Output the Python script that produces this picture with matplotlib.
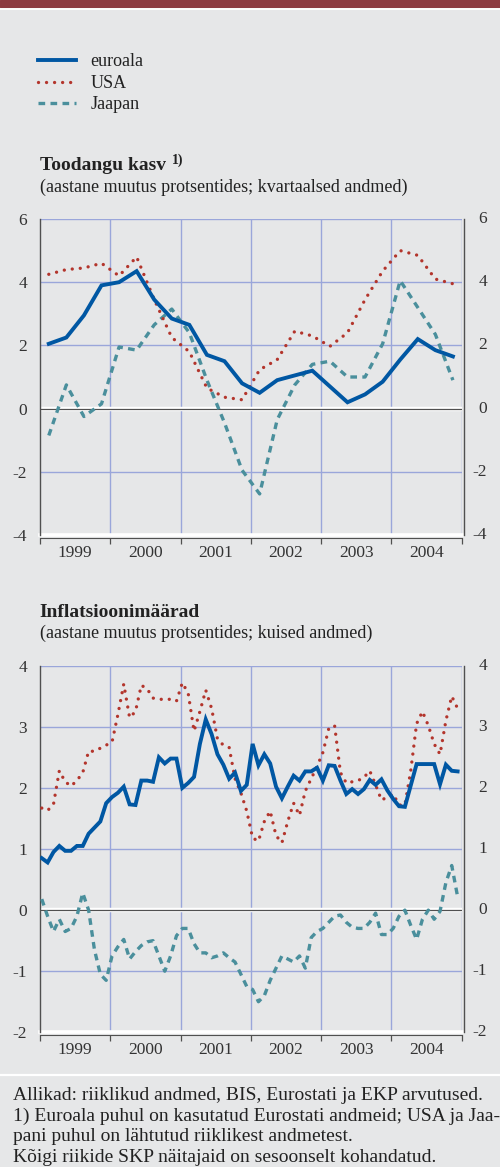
import matplotlib
matplotlib.use('Agg')
import matplotlib.pyplot as plt
import matplotlib.transforms as mtransforms
import numpy as np
from matplotlib.lines import Line2D
from matplotlib.patches import Rectangle

plt.rcParams['font.family'] = ['Liberation Serif', 'DejaVu Serif']

#figure size in pixels
W, H = 500, 1167

#colours
BG = '#E6E7E8'
C_EURO = '#0057A3'
C_USA = '#B3352C'
C_JPN = '#4A8F9C'
C_GRID = '#9AA6DA'
C_AXIS = '#505050'
C_TEXT = '#222222'

##data
years = [1999, 2000, 2001, 2002, 2003, 2004]
series_names = ['euroala', 'USA', 'Jaapan']

#output growth, quarterly 1999Q1 - 2004Q4
gdp_euro = [2.05, 2.25, 2.95, 3.9, 4.0, 4.35, 3.45, 2.85, 2.65, 1.7, 1.5, 0.8,
            0.5, 0.9, 1.05, 1.2, 0.7, 0.2, 0.45, 0.85, 1.55, 2.2, 1.85, 1.65]
gdp_usa = [4.25, 4.4, 4.45, 4.6, 4.2, 4.8, 3.45, 2.25, 1.8, 0.65, 0.36, 0.28,
           1.23, 1.55, 2.45, 2.3, 1.97, 2.4, 3.45, 4.35, 5.0, 4.85, 4.1, 3.95]
gdp_jpn = [-0.85, 0.75, -0.25, 0.15, 1.95, 1.85, 2.65, 3.15, 2.4, 0.9, -0.45, -1.95,
           -2.7, -0.35, 0.75, 1.4, 1.5, 1.0, 1.0, 2.05, 4.05, 3.2, 2.35, 0.9]

#inflation, monthly 1999-01 - 2004-12
cpi_euro = [0.85, 0.78, 0.95, 1.05, 0.97, 0.97, 1.05, 1.05, 1.25, 1.35, 1.45, 1.75,
            1.85, 1.92, 2.02, 1.73, 1.72, 2.12, 2.12, 2.1, 2.5, 2.4, 2.48, 2.48,
            2.0, 2.08, 2.18, 2.72, 3.12, 2.88, 2.55, 2.38, 2.15, 2.25, 1.95, 2.05,
            2.72, 2.37, 2.55, 2.4, 2.02, 1.83, 2.02, 2.2, 2.12, 2.27, 2.27, 2.33,
            2.12, 2.37, 2.36, 2.12, 1.9, 1.98, 1.9, 1.98, 2.13, 2.05, 2.14, 1.96,
            1.82, 1.7, 1.69, 2.04, 2.39, 2.39, 2.39, 2.39, 2.06, 2.38, 2.28, 2.27]
cpi_usa = [1.67, 1.63, 1.73, 2.28, 2.1, 2.03, 2.12, 2.25, 2.6, 2.6, 2.65, 2.7,
           2.75, 3.2, 3.7, 3.15, 3.25, 3.68, 3.62, 3.47, 3.45, 3.45, 3.45, 3.42,
           3.72, 3.55, 2.93, 3.25, 3.6, 3.3, 2.8, 2.7, 2.66, 2.15, 1.92, 1.62,
           1.18, 1.13, 1.45, 1.62, 1.22, 1.1, 1.45, 1.75, 1.55, 1.95, 2.15, 2.35,
           2.58, 2.97, 3.02, 2.25, 2.08, 2.1, 2.12, 2.17, 2.28, 2.05, 1.8, 1.85,
           1.9, 1.72, 1.72, 2.28, 3.05, 3.25, 3.02, 2.72, 2.55, 3.1, 3.5, 3.3]
cpi_jpn = [0.18, -0.1, -0.35, -0.15, -0.35, -0.3, -0.1, 0.28, 0.0, -0.65, -1.05, -1.15,
           -0.75, -0.6, -0.48, -0.8, -0.68, -0.58, -0.52, -0.5, -0.75, -1.0, -0.75, -0.42,
           -0.3, -0.3, -0.55, -0.7, -0.7, -0.78, -0.75, -0.7, -0.78, -0.85, -1.05, -1.25,
           -1.3, -1.5, -1.4, -1.15, -0.95, -0.75, -0.8, -0.85, -0.75, -0.95, -0.45, -0.35,
           -0.3, -0.2, -0.1, -0.08, -0.2, -0.28, -0.3, -0.3, -0.2, -0.05, -0.4, -0.4,
           -0.3, -0.1, 0.0, -0.25, -0.48, -0.15, 0.0, -0.15, -0.02, 0.45, 0.73, 0.22]

#time axes (quarter / month midpoints)
x_q = np.array([y + (q + 0.5) / 4 for y in years for q in range(4)])
x_m = np.array([y + (m + 0.3) / 12 for y in years for m in range(12)])

#texts
title1 = 'Toodangu kasv'
title1_sup = '1)'
sub1 = '(aastane muutus protsentides; kvartaalsed andmed)'
title2 = 'Inflatsioonimäärad'
sub2 = '(aastane muutus protsentides; kuised andmed)'
notes = ['Allikad: riiklikud andmed, BIS, Eurostati ja EKP arvutused.',
         '1) Euroala puhul on kasutatud Eurostati andmeid; USA ja Jaa-',
         'pani puhul on lähtutud riiklikest andmetest.',
         'Kõigi riikide SKP näitajaid on sesoonselt kohandatud.']

#axes box in pixels (left, right)
AX_L, AX_R = 40, 461.7


def fx(x):
    return x / W


def fy(y):
    return 1 - y / H


def style_line(name):
    if name == 'euroala':
        return dict(color=C_EURO, lw=2.8, solid_joinstyle='miter', zorder=5)
    if name == 'USA':
        return dict(color=C_USA, lw=2.4, linestyle=(0, (0.01, 2.4)),
                    dash_capstyle='round', zorder=4)
    return dict(color=C_JPN, lw=2.4, linestyle=(0, (2.0, 1.6)),
                dash_capstyle='butt', zorder=3)


def setup_axes(ax, ymin, ymax, step):
    ax.set_facecolor(BG)
    ax.set_xlim(1999, 2005)
    ax.set_ylim(ymin, ymax)
    yt = np.arange(ymin, ymax + step / 2, step)

    #grid
    for xv in range(2000, 2006):
        ax.axvline(xv, color=C_GRID, lw=1.0, zorder=1)
    for yv in yt:
        ax.axhline(yv, color=C_GRID, lw=1.0, zorder=1)
    ax.axhline(0, color='white', lw=3.2, zorder=2)
    ax.axhline(0, color=C_AXIS, lw=0.9, zorder=2.1)
    ax.axhline(ymin, color='white', lw=2.6, zorder=2, clip_on=False)

    #y ticks left
    ax.set_yticks(yt)
    ax.set_yticklabels(['%g' % v for v in yt])
    ax.tick_params(axis='y', length=0, pad=9.4, labelsize=12.5, colors='#333333')

    #y labels right (right aligned)
    trans = mtransforms.blended_transform_factory(ax.transAxes, ax.transData)
    xr = 1 + (487 - AX_L) / (AX_R - AX_L) - 1 / 1.0
    for yv in yt:
        ax.text(xr, yv, '%g' % yv, transform=trans, ha='right', va='center',
                fontsize=12.5, color='#333333')

    #x ticks: year boundaries + labels in middle
    ax.set_xticks(range(1999, 2006))
    ax.set_xticklabels([])
    ax.set_xticks([y + 0.5 for y in years], minor=True)
    ax.set_xticklabels([str(y) for y in years], minor=True)
    ax.tick_params(axis='x', which='major', length=4, width=0.9, direction='out', color=C_AXIS)
    ax.tick_params(axis='x', which='minor', length=0, pad=5, labelsize=12.5, labelcolor='#333333')

    ax.spines['top'].set_visible(False)
    ax.spines['left'].set_color(C_AXIS)
    ax.spines['left'].set_linewidth(1.0)
    ax.spines['right'].set_color(C_AXIS)
    ax.spines['right'].set_linewidth(1.0)
    ax.spines['right'].set_position(('outward', 2))
    ax.spines['bottom'].set_color(C_AXIS)
    ax.spines['bottom'].set_linewidth(0.8)
    ax.spines['bottom'].set_position(('outward', 2))


fig = plt.figure(figsize=(W / 100, H / 100), dpi=100, facecolor=BG)

#top bar
fig.patches.append(Rectangle((0, fy(7.3)), 1, 7.3 / H, transform=fig.transFigure,
                             color='#8C3A40', zorder=0))
fig.add_artist(Line2D([0, 1], [fy(9.2), fy(9.2)], color='white', lw=1.3))

#chart 1
ax1 = fig.add_axes([fx(AX_L), fy(535), fx(AX_R - AX_L), (535 - 219) / H])
setup_axes(ax1, -4, 6, 2)
for name, vals in zip(series_names, [gdp_euro, gdp_usa, gdp_jpn]):
    ax1.plot(x_q, vals, **style_line(name))

#chart 2
ax2 = fig.add_axes([fx(AX_L), fy(1032.3), fx(AX_R - AX_L), (1032.3 - 665.7) / H])
setup_axes(ax2, -2, 4, 1)
for name, vals in zip(series_names, [cpi_euro, cpi_usa, cpi_jpn]):
    ax2.plot(x_m, vals, **style_line(name))

#legend
leg_y = [60, 81.7, 102.7]
for name, yy in zip(series_names, leg_y):
    fig.add_artist(Line2D([fx(38), fx(76)], [fy(yy), fy(yy)], **style_line(name)))
    fig.text(fx(90.7), fy(yy + 6.5), name, fontsize=13, color=C_TEXT, va='baseline')

#titles
t1 = fig.text(fx(39.5), fy(170), title1, fontsize=14, fontweight='bold', color=C_TEXT, va='baseline')
fig.canvas.draw()
bb = t1.get_window_extent(fig.canvas.get_renderer())
fig.text(bb.x1 / W + 6 / W, fy(164), title1_sup, fontsize=10, fontweight='bold',
         color=C_TEXT, va='baseline')
fig.text(fx(39.5), fy(191.5), sub1, fontsize=13, color=C_TEXT, va='baseline')
fig.text(fx(39.5), fy(616.7), title2, fontsize=14, fontweight='bold', color=C_TEXT, va='baseline')
fig.text(fx(39.5), fy(638), sub2, fontsize=13, color=C_TEXT, va='baseline')

#footnotes
fig.add_artist(Line2D([0, 1], [fy(1075), fy(1075)], color='white', lw=1.6))
for i, line in enumerate(notes):
    fig.text(fx(13.3), fy(1100 + i * 20.5), line, fontsize=14, color=C_TEXT, va='baseline')

fig.savefig('out.png', dpi=100, facecolor=BG)
